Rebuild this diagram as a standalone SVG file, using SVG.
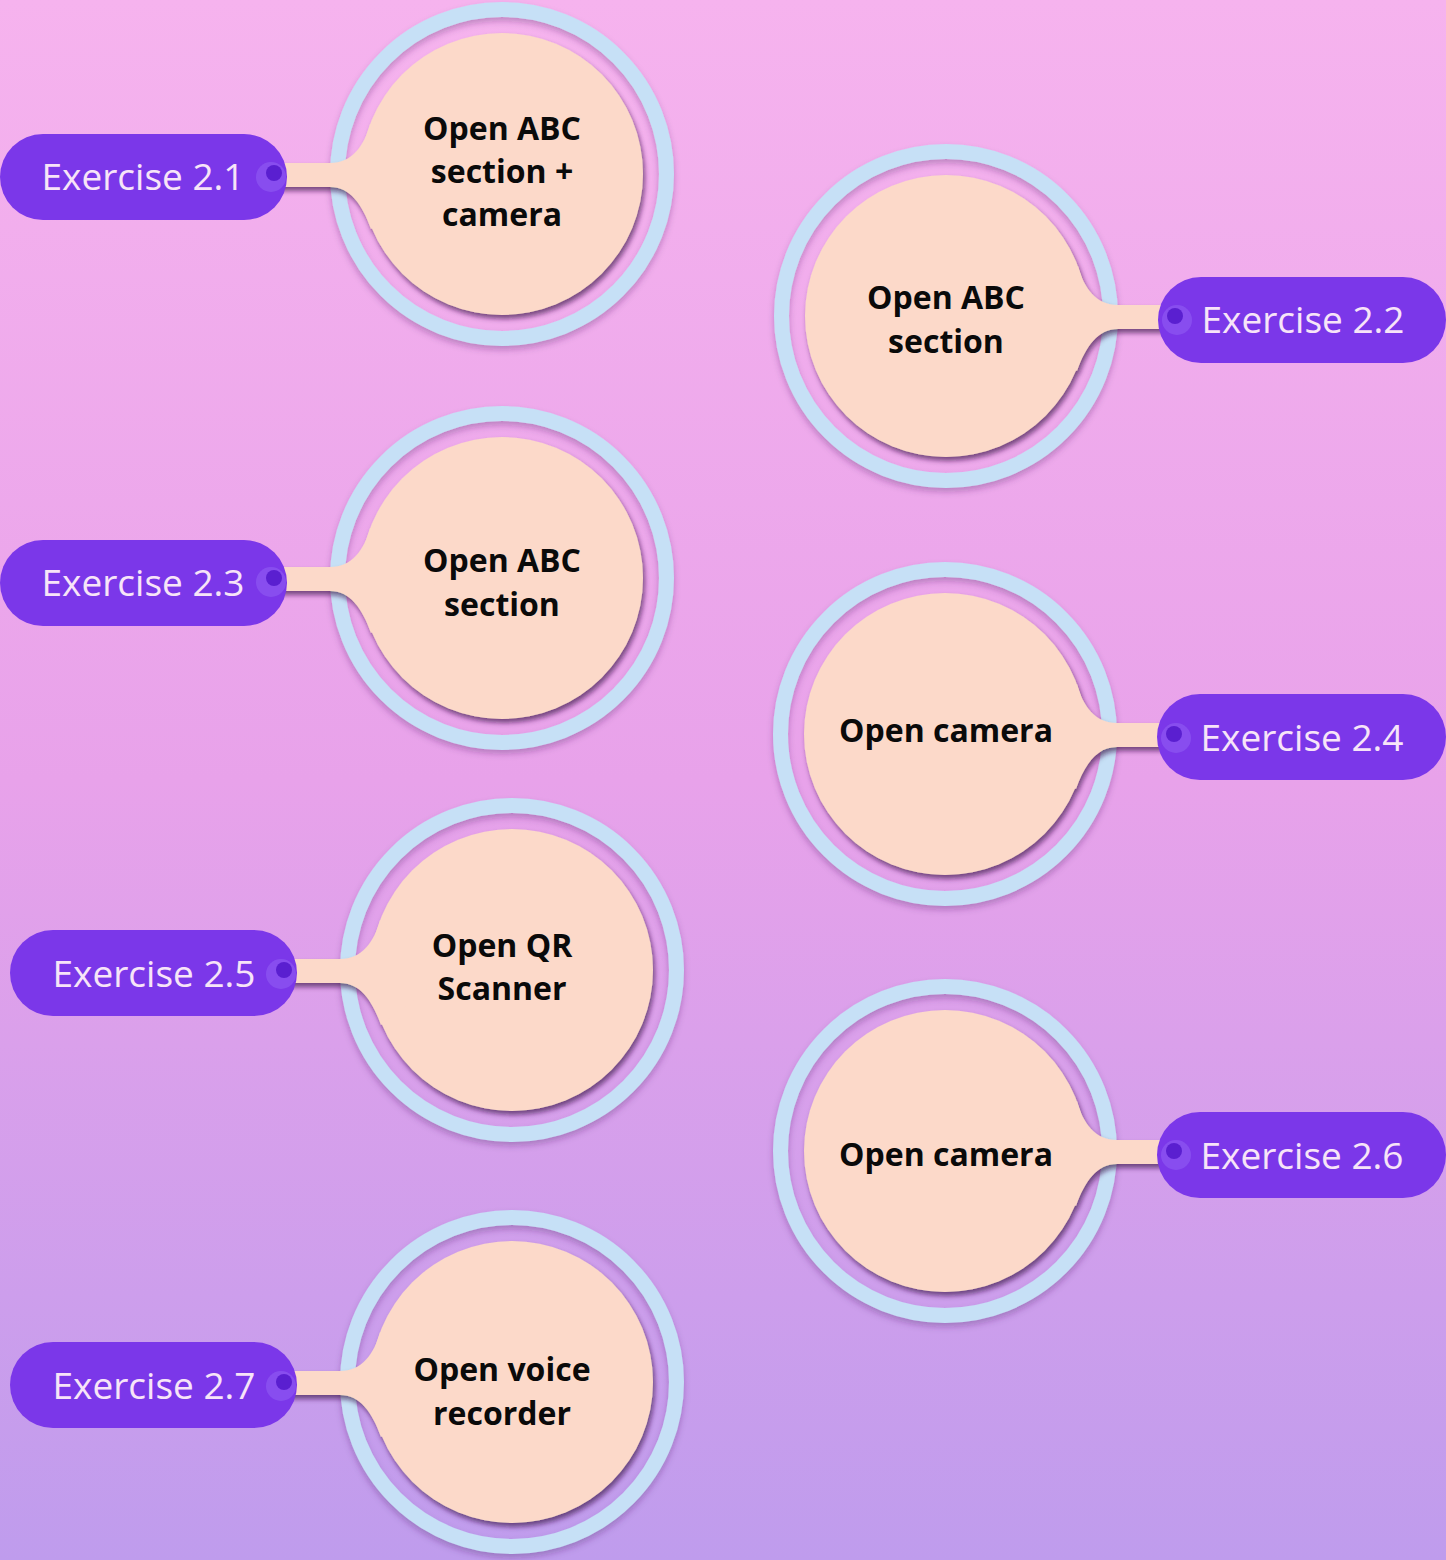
<svg xmlns="http://www.w3.org/2000/svg" width="1446" height="1560" viewBox="0 0 1446 1560">
<defs>
<linearGradient id="bg" x1="0" y1="0" x2="0" y2="1">
<stop offset="0" stop-color="#f6b3ee"/>
<stop offset="0.5" stop-color="#e8a2ea"/>
<stop offset="1" stop-color="#bf9ced"/>
</linearGradient>
<filter id="sh" x="-20%" y="-20%" width="140%" height="140%">
<feDropShadow dx="2" dy="4" stdDeviation="2.5" flood-color="#3b1048" flood-opacity="0.65"/>
</filter>
<filter id="shr" x="-20%" y="-20%" width="140%" height="140%">
<feDropShadow dx="0" dy="4" stdDeviation="3" flood-color="#4a1a60" flood-opacity="0.3"/>
</filter>
<path id="neckR" d="M 240,-11 H 172 C 150,-11 138,-28 132,-50 L 60,0 L 131,55 C 140,30 152,13 172,13 H 240 Z"/>
</defs>
<style>
.ring{fill:none;stroke:#c6e0f6;stroke-width:15}
.peach{fill:#fcd9c9}
.pill{fill:#7b37e9}
.halo{fill:#8c55f0;opacity:0.75}
.dot{fill:#5a1fd0}
.pt{font-family:"Open Sans","Noto Sans",sans-serif;font-size:37px;fill:#f7e4f8;text-anchor:middle}
.nt{font-family:"Open Sans","Noto Sans",sans-serif;font-size:32px;font-weight:bold;fill:#0a0a0a;text-anchor:middle}
</style>
<rect width="1446" height="1560" fill="url(#bg)"/>
<g id="connectors">
</g>
<g id="node1">
<circle class="ring" cx="502" cy="174" r="164.5" filter="url(#shr)"/>
<g filter="url(#sh)" class="peach"><circle cx="502" cy="174" r="141"/><use href="#neckR" transform="translate(502,174) scale(-1,1)"/></g>
<rect class="pill" x="0" y="134" width="287" height="86" rx="43"/>
<circle class="halo" cx="271" cy="177" r="15"/><circle class="dot" cx="274" cy="173" r="8"/>
<text class="pt" x="143" y="190">Exercise 2.1</text>
<text class="nt" x="502" y="140">Open ABC</text>
<text class="nt" x="502" y="183">section +</text>
<text class="nt" x="502" y="226">camera</text>
</g>
<g id="node2">
<circle class="ring" cx="946" cy="316" r="164.5" filter="url(#shr)"/>
<g filter="url(#sh)" class="peach"><circle cx="946" cy="316" r="141"/><use href="#neckR" transform="translate(946,316)"/></g>
<rect class="pill" x="1158" y="277" width="288" height="86" rx="43"/>
<circle class="halo" cx="1177" cy="320" r="15"/><circle class="dot" cx="1175" cy="316" r="8"/>
<text class="pt" x="1303" y="333">Exercise 2.2</text>
<text class="nt" x="946" y="309">Open ABC</text>
<text class="nt" x="946" y="353">section</text>
</g>
<g id="node3">
<circle class="ring" cx="502" cy="578" r="164.5" filter="url(#shr)"/>
<g filter="url(#sh)" class="peach"><circle cx="502" cy="578" r="141"/><use href="#neckR" transform="translate(502,578) scale(-1,1)"/></g>
<rect class="pill" x="0" y="540" width="287" height="86" rx="43"/>
<circle class="halo" cx="271" cy="582" r="15"/><circle class="dot" cx="274" cy="578" r="8"/>
<text class="pt" x="143" y="596">Exercise 2.3</text>
<text class="nt" x="502" y="572">Open ABC</text>
<text class="nt" x="502" y="616">section</text>
</g>
<g id="node4">
<circle class="ring" cx="945" cy="734" r="164.5" filter="url(#shr)"/>
<g filter="url(#sh)" class="peach"><circle cx="945" cy="734" r="141"/><use href="#neckR" transform="translate(945,734)"/></g>
<rect class="pill" x="1157" y="694" width="289" height="86" rx="43"/>
<circle class="halo" cx="1176" cy="738" r="15"/><circle class="dot" cx="1174" cy="734" r="8"/>
<text class="pt" x="1302" y="751">Exercise 2.4</text>
<text class="nt" x="946" y="742">Open camera</text>
</g>
<g id="node5">
<circle class="ring" cx="512" cy="970" r="164.5" filter="url(#shr)"/>
<g filter="url(#sh)" class="peach"><circle cx="512" cy="970" r="141"/><use href="#neckR" transform="translate(512,970) scale(-1,1)"/></g>
<rect class="pill" x="10" y="930" width="287" height="86" rx="43"/>
<circle class="halo" cx="281" cy="974" r="15"/><circle class="dot" cx="284" cy="970" r="8"/>
<text class="pt" x="154" y="987">Exercise 2.5</text>
<text class="nt" x="502" y="957">Open QR</text>
<text class="nt" x="502" y="1000">Scanner</text>
</g>
<g id="node6">
<circle class="ring" cx="945" cy="1151" r="164.5" filter="url(#shr)"/>
<g filter="url(#sh)" class="peach"><circle cx="945" cy="1151" r="141"/><use href="#neckR" transform="translate(945,1151)"/></g>
<rect class="pill" x="1157" y="1112" width="289" height="86" rx="43"/>
<circle class="halo" cx="1176" cy="1155" r="15"/><circle class="dot" cx="1174" cy="1151" r="8"/>
<text class="pt" x="1302" y="1169">Exercise 2.6</text>
<text class="nt" x="946" y="1166">Open camera</text>
</g>
<g id="node7">
<circle class="ring" cx="512" cy="1382" r="164.5" filter="url(#shr)"/>
<g filter="url(#sh)" class="peach"><circle cx="512" cy="1382" r="141"/><use href="#neckR" transform="translate(512,1382) scale(-1,1)"/></g>
<rect class="pill" x="10" y="1342" width="287" height="86" rx="43"/>
<circle class="halo" cx="281" cy="1386" r="15"/><circle class="dot" cx="284" cy="1382" r="8"/>
<text class="pt" x="154" y="1399">Exercise 2.7</text>
<text class="nt" x="502" y="1381">Open voice</text>
<text class="nt" x="502" y="1425">recorder</text>
</g>
</svg>
